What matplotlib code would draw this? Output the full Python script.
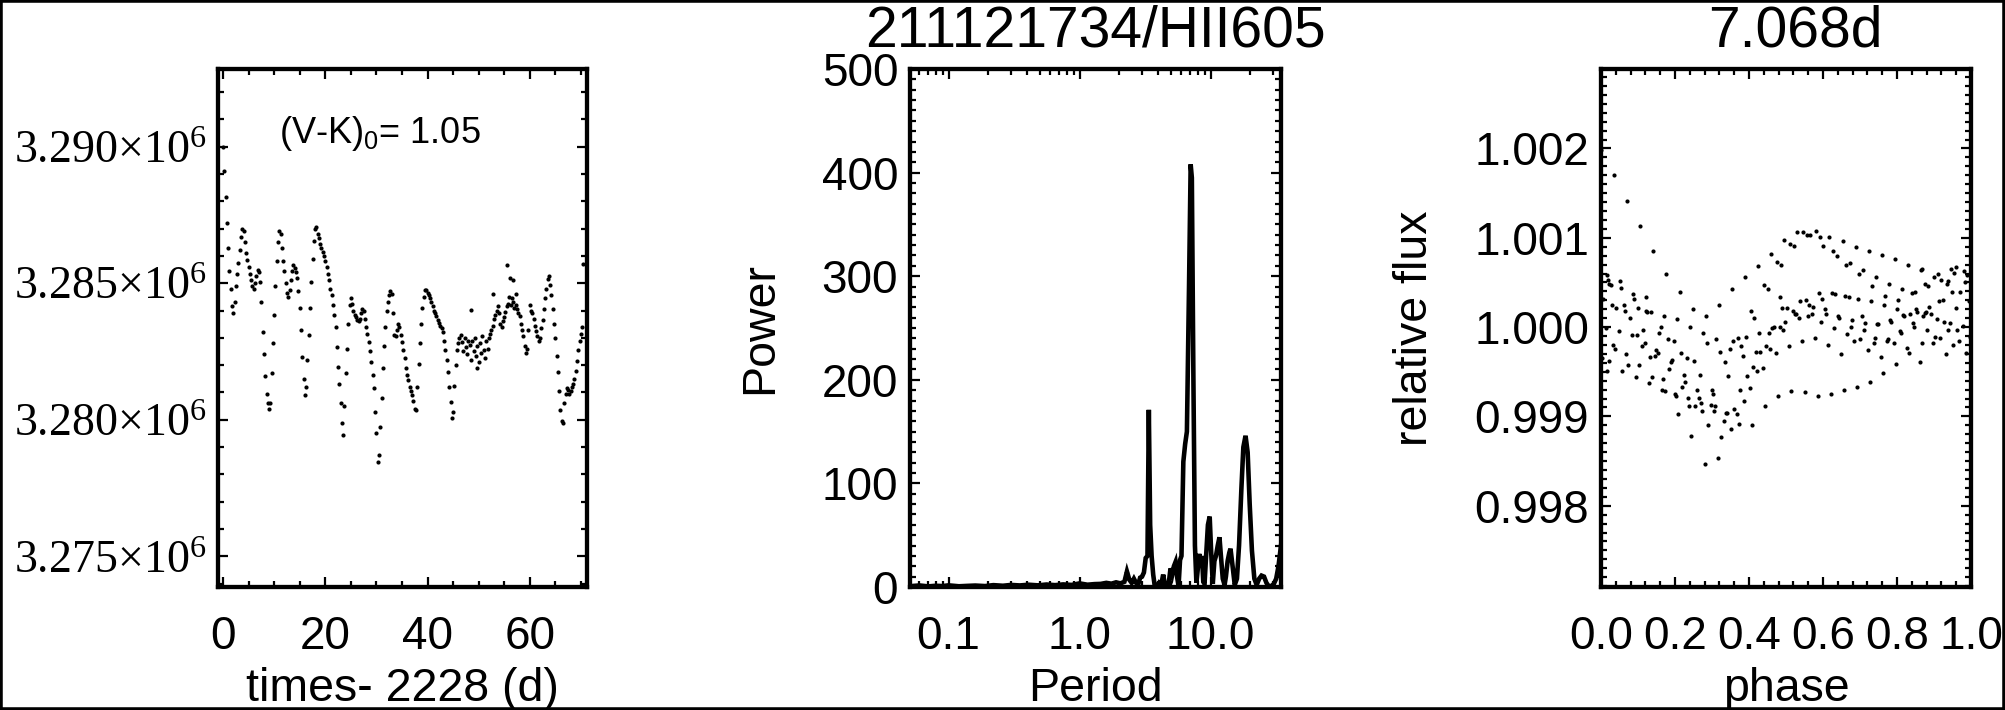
import numpy as np
import matplotlib.pyplot as plt
from matplotlib.ticker import MultipleLocator, LogLocator, NullFormatter, FormatStrFormatter
from matplotlib.patches import Rectangle

plt.rcParams['font.family'] = ['Liberation Sans', 'DejaVu Sans']
plt.rcParams['mathtext.default'] = 'regular'

# light curve (time in days, flux in units of 1e6)
times = [0.0, 0.25, 0.5, 0.75, 1.0, 1.25, 1.5, 1.75,
         2.0, 2.25, 2.5, 2.75, 3.0, 3.25, 3.5, 3.75,
         4.0, 4.25, 4.5, 4.75, 5.0, 5.25, 5.5, 5.75,
         6.0, 6.25, 6.5, 6.75, 7.0, 7.25, 7.5, 7.75,
         8.0, 8.25, 8.5, 8.75, 9.0, 9.25, 9.5, 9.75,
         10.0, 10.25, 10.5, 10.75, 11.0, 11.25, 11.5, 11.75,
         12.0, 12.25, 12.5, 12.75, 13.0, 13.25, 13.5, 13.75,
         14.0, 14.25, 14.5, 14.75, 15.0, 15.25, 15.5, 15.75,
         16.0, 16.25, 16.5, 16.75, 17.0, 17.25, 17.5, 17.75,
         18.0, 18.25, 18.5, 18.75, 19.0, 19.25, 19.5, 19.75,
         20.0, 20.25, 20.5, 20.75, 21.0, 21.25, 21.5, 21.75,
         22.0, 22.25, 22.5, 22.75, 23.0, 23.25, 23.5, 23.75,
         24.0, 24.25, 24.5, 24.75, 25.0, 25.25, 25.5, 25.75,
         26.0, 26.25, 26.5, 26.75, 27.0, 27.25, 27.5, 27.75,
         28.0, 28.25, 28.5, 28.75, 29.0, 29.25, 29.5, 29.75,
         30.0, 30.25, 30.5, 30.75, 31.0, 31.25, 31.5, 31.75,
         32.0, 32.25, 32.5, 32.75, 33.0, 33.25, 33.5, 33.75,
         34.0, 34.25, 34.5, 34.75, 35.0, 35.25, 35.5, 35.75,
         36.0, 36.25, 36.5, 36.75, 37.0, 37.25, 37.5, 37.75,
         38.0, 38.25, 38.5, 38.75, 39.0, 39.25, 39.5, 39.75,
         40.0, 40.25, 40.5, 40.75, 41.0, 41.25, 41.5, 41.75,
         42.0, 42.25, 42.5, 42.75, 43.0, 43.25, 43.5, 43.75,
         44.0, 44.25, 44.5, 44.75, 45.0, 45.25, 45.5, 45.75,
         46.0, 46.25, 46.5, 46.75, 47.0, 47.25, 47.5, 47.75,
         48.0, 48.25, 48.5, 48.75, 49.0, 49.25, 49.5, 49.75,
         50.0, 50.25, 50.5, 50.75, 51.0, 51.25, 51.5, 51.75,
         52.0, 52.25, 52.5, 52.75, 53.0, 53.25, 53.5, 53.75,
         54.0, 54.25, 54.5, 54.75, 55.0, 55.25, 55.5, 55.75,
         56.0, 56.25, 56.5, 56.75, 57.0, 57.25, 57.5, 57.75,
         58.0, 58.25, 58.5, 58.75, 59.0, 59.25, 59.5, 59.75,
         60.0, 60.25, 60.5, 60.75, 61.0, 61.25, 61.5, 61.75,
         62.0, 62.25, 62.5, 62.75, 63.0, 63.25, 63.5, 63.75,
         64.0, 64.25, 64.5, 64.75, 65.0, 65.25, 65.5, 65.75,
         66.0, 66.25, 66.5, 66.75, 67.0, 67.25, 67.5, 67.75,
         68.0, 68.25, 68.5, 68.75, 69.0, 69.25, 69.5, 69.75,
         70.0, 70.25]
flux = [3.29000, 3.28910, 3.28815, 3.28720, 3.28630, 3.28545, 3.28480, 3.28415,
        3.28390, 3.28430, 3.28490, 3.28535, 3.28575, 3.28620, 3.28670, 3.28700,
        3.28690, 3.28650, 3.28610, 3.28585, 3.28560, 3.28535, 3.28510, 3.28490,
        3.28480, 3.28500, 3.28525, 3.28550, 3.28540, 3.28505, 3.28430, 3.28320,
        3.28240, 3.28160, 3.28095, 3.28060, 3.28040, 3.28060, 3.28170, 3.28280,
        3.28385, 3.28490, 3.28580, 3.28650, 3.28690, 3.28680, 3.28630, 3.28580,
        3.28545, 3.28500, 3.28465, 3.28450, 3.28475, 3.28510, 3.28545, 3.28565,
        3.28555, 3.28540, 3.28520, 3.28470, 3.28410, 3.28330, 3.28230, 3.28150,
        3.28090, 3.28120, 3.28220, 3.28310, 3.28410, 3.28505, 3.28590, 3.28655,
        3.28700, 3.28705, 3.28680, 3.28665, 3.28645, 3.28630, 3.28615, 3.28600,
        3.28580, 3.28560, 3.28535, 3.28510, 3.28480, 3.28455, 3.28420, 3.28385,
        3.28340, 3.28265, 3.28195, 3.28130, 3.28060, 3.27990, 3.27945, 3.28050,
        3.28170, 3.28260, 3.28350, 3.28420, 3.28445, 3.28425, 3.28400, 3.28385,
        3.28375, 3.28365, 3.28360, 3.28370, 3.28390, 3.28405, 3.28400, 3.28370,
        3.28340, 3.28315, 3.28285, 3.28250, 3.28210, 3.28165, 3.28115, 3.28030,
        3.27950, 3.27845, 3.27870, 3.27975, 3.28080, 3.28190, 3.28270, 3.28340,
        3.28400, 3.28430, 3.28455, 3.28470, 3.28460, 3.28390, 3.28310, 3.28305,
        3.28330, 3.28350, 3.28340, 3.28310, 3.28285, 3.28255, 3.28225, 3.28190,
        3.28165, 3.28145, 3.28120, 3.28105, 3.28090, 3.28070, 3.28040, 3.28035,
        3.28120, 3.28205, 3.28280, 3.28350, 3.28410, 3.28450, 3.28475, 3.28475,
        3.28465, 3.28455, 3.28445, 3.28430, 3.28415, 3.28400, 3.28390, 3.28380,
        3.28365, 3.28355, 3.28345, 3.28335, 3.28320, 3.28290, 3.28255, 3.28220,
        3.28175, 3.28120, 3.28065, 3.28005, 3.28030, 3.28125, 3.28200, 3.28255,
        3.28280, 3.28300, 3.28310, 3.28285, 3.28250, 3.28300, 3.28265, 3.28240,
        3.28290, 3.28275, 3.28220, 3.28290, 3.28250, 3.28300, 3.28235, 3.28270,
        3.28210, 3.28280, 3.28245, 3.28305, 3.28255, 3.28225, 3.28290, 3.28260,
        3.28300, 3.28315, 3.28330, 3.28345, 3.28370, 3.28385, 3.28400, 3.28415,
        3.28390, 3.28350, 3.28340, 3.28360, 3.28375, 3.28395, 3.28415, 3.28425,
        3.28450, 3.28420, 3.28445, 3.28430, 3.28410, 3.28420, 3.28405, 3.28390,
        3.28380, 3.28350, 3.28330, 3.28305, 3.28270, 3.28245, 3.28260, 3.28330,
        3.28420, 3.28400, 3.28390, 3.28370, 3.28345, 3.28325, 3.28305, 3.28290,
        3.28300, 3.28335, 3.28365, 3.28405, 3.28445, 3.28480, 3.28515, 3.28525,
        3.28495, 3.28455, 3.28405, 3.28350, 3.28300, 3.28235, 3.28175, 3.28105,
        3.28035, 3.27995, 3.27990, 3.28060, 3.28095, 3.28115, 3.28110, 3.28095,
        3.28105, 3.28120, 3.28130, 3.28150, 3.28180, 3.28215, 3.28255, 3.28290,
        3.28315, 3.28340]
# a few stray points in the noisy stretch
outlier_times = [48.6, 49.6, 52.9, 55.6, 56.1, 56.7, 57.4, 70.4]
outlier_flux = [3.28402, 3.28190, 3.28460, 3.28565, 3.28520, 3.28510, 3.28460, 3.28571]

# periodogram
period_d = [0.051, 0.06, 0.07, 0.08, 0.09, 0.1, 0.12, 0.14, 0.16, 0.19,
            0.22, 0.26, 0.3, 0.35, 0.41, 0.48, 0.56, 0.65, 0.75, 0.87,
            1.0, 1.15, 1.3, 1.45, 1.6, 1.75, 1.9, 2.05, 2.2, 2.3,
            2.4, 2.5, 2.6, 2.7, 2.8, 2.9, 3.0, 3.1, 3.2, 3.3,
            3.38, 3.46, 3.55, 3.65, 3.75, 3.9, 4.05, 4.2, 4.35, 4.5,
            4.65, 4.8, 4.95, 5.1, 5.25, 5.4, 5.55, 5.7, 5.85, 6.0,
            6.2, 6.4, 6.6, 6.85, 7.05, 7.2, 7.4, 7.6, 7.8, 8.0,
            8.2, 8.4, 8.6, 8.8, 9.0, 9.25, 9.55, 9.85, 10.1, 10.4,
            10.7, 11.0, 11.35, 11.7, 12.0, 12.4, 12.8, 13.1, 13.5, 13.9,
            14.2, 14.8, 15.3, 15.9, 16.5, 17.2, 17.8, 18.5, 19.2, 19.9,
            20.7, 21.6, 22.5, 23.5, 24.5, 25.6, 26.7, 27.9, 29.1, 30.4,
            31.7, 33.0, 34.5]
power = [0.8, 1.5, 0.6, 1.2, 0.9, 1.6, 0.7, 1.1, 1.4, 0.9,
         1.8, 1.2, 2.0, 1.5, 2.2, 1.6, 2.4, 1.8, 2.5, 2.0,
         3.5, 2.2, 2.8, 3.0, 4.0, 3.2, 4.5, 3.5, 5.0, 15.0,
         7.0, 4.0, 8.0, 4.0, 2.0, 9.0, 10.0, 14.0, 28.0, 30.0,
         171.0, 60.0, 30.0, 12.0, 1.0, 0.5, 4.0, 2.0, 12.0, 1.0,
         0.5, 4.0, 18.0, 12.0, 20.0, 24.0, 10.0, 1.0, 26.0, 30.0,
         121.0, 138.0, 150.0, 290.0, 408.0, 395.0, 200.0, 40.0, 4.0, 18.0,
         32.0, 20.0, 30.0, 5.0, 3.0, 30.0, 60.0, 68.0, 35.0, 3.0,
         25.0, 30.0, 40.0, 48.0, 30.0, 8.0, 2.0, 10.0, 25.0, 33.0,
         37.0, 18.0, 2.0, 8.0, 40.0, 95.0, 135.0, 146.0, 130.0, 80.0,
         35.0, 8.0, 2.0, 8.0, 11.0, 10.0, 4.0, 0.5, 1.0, 3.0,
         8.0, 20.0, 40.0]

best_period = 7.068
star_name = "211121734/HII605"
vk_color = 1.05

flux_tick_values = [3.275e6, 3.280e6, 3.285e6, 3.290e6]
flux_tick_labels = ["3.275×10$^{6}$", "3.280×10$^{6}$", "3.285×10$^{6}$", "3.290×10$^{6}$"]

TICK_FS = 33
LABEL_FS = 33.5
DOT = 3.0


def style_axes(ax, xpad=20, ypad=8.5):
    for sp in ax.spines.values():
        sp.set_linewidth(3.1)
    ax.tick_params(which='both', direction='in', top=True, right=True,
                   width=1.6, labelsize=TICK_FS)
    ax.tick_params(which='major', length=7.2)
    ax.tick_params(which='minor', length=4)
    ax.tick_params(axis='x', which='both', pad=xpad)
    ax.tick_params(axis='y', which='both', pad=ypad)


fig = plt.figure(figsize=(20.05, 7.10), dpi=100)
ax1 = fig.add_axes([218 / 2005, 123 / 710, 369 / 2005, 518 / 710])
ax2 = fig.add_axes([910 / 2005, 123 / 710, 371 / 2005, 518 / 710])
ax3 = fig.add_axes([1601 / 2005, 123 / 710, 370 / 2005, 518 / 710])

t_all = np.concatenate([times, outlier_times])
f_all = np.concatenate([flux, outlier_flux]) * 1e6

# Light curve
ax1.plot(t_all, f_all, 'o', ms=DOT, mew=0, color='k')
ax1.set_xlim(-1.0, 71.2)
ax1.set_ylim(3.27388e6, 3.29284e6)
ax1.xaxis.set_major_locator(MultipleLocator(20))
ax1.xaxis.set_minor_locator(MultipleLocator(5))
ax1.set_yticks(flux_tick_values, labels=flux_tick_labels)
ax1.yaxis.set_minor_locator(MultipleLocator(1000))
style_axes(ax1, ypad=8)
for lab in ax1.get_yticklabels():
    lab.set_fontfamily('Liberation Serif')
ax1.set_xlabel("times- 2228 (d)", fontsize=LABEL_FS)
ax1.xaxis.set_label_coords(0.5, -0.154)
ax1.text(0.165, 0.857, "(V-K)$_0$= %.2f" % vk_color, transform=ax1.transAxes,
         fontsize=26, ha='left', va='baseline')

# Periodogram
ax2.plot(period_d, power, color='k', lw=3.3, solid_joinstyle='miter')
ax2.set_xscale('log')
ax2.set_xlim(0.0508, 34.5)
ax2.set_ylim(0, 500)
ax2.set_xticks([0.1, 1.0, 10.0], labels=["0.1", "1.0", "10.0"])
ax2.xaxis.set_minor_locator(LogLocator(base=10, subs=np.arange(2, 10)))
ax2.xaxis.set_minor_formatter(NullFormatter())
ax2.yaxis.set_major_locator(MultipleLocator(100))
ax2.yaxis.set_minor_locator(MultipleLocator(10))
style_axes(ax2)
ax2.set_xlabel("Period", fontsize=LABEL_FS)
ax2.xaxis.set_label_coords(0.5, -0.154)
ax2.set_ylabel("Power", fontsize=LABEL_FS)
ax2.yaxis.set_label_coords(-0.345, 0.5)
ax2.text(0.5, 1.0425, star_name, transform=ax2.transAxes, ha='center',
         va='baseline', fontsize=41)

# Phase folded light curve
phase = (t_all % best_period) / best_period
rel_flux = f_all / np.median(f_all)
ax3.plot(phase, rel_flux, 'o', ms=DOT, mew=0, color='k')
ax3.set_xlim(0, 1)
ax3.set_ylim(0.99709, 1.00289)
ax3.xaxis.set_major_locator(MultipleLocator(0.2))
ax3.xaxis.set_minor_locator(MultipleLocator(0.04))
ax3.xaxis.set_major_formatter(FormatStrFormatter('%.1f'))
ax3.yaxis.set_major_locator(MultipleLocator(0.001))
ax3.yaxis.set_minor_locator(MultipleLocator(0.0001))
ax3.yaxis.set_major_formatter(FormatStrFormatter('%.3f'))
style_axes(ax3)
ax3.set_xlabel("phase", fontsize=LABEL_FS)
ax3.xaxis.set_label_coords(0.5, -0.154)
ax3.set_ylabel("relative flux", fontsize=LABEL_FS)
ax3.yaxis.set_label_coords(-0.443, 0.5)
ax3.text(0.525, 1.0425, "%.3fd" % best_period, transform=ax3.transAxes,
         ha='center', va='baseline', fontsize=41)

# frame round the whole picture
fig.patches.append(Rectangle((0, 0), 1, 1, transform=fig.transFigure,
                             fill=False, edgecolor='k', lw=4, zorder=10))

plt.savefig("out.png", dpi=100)
